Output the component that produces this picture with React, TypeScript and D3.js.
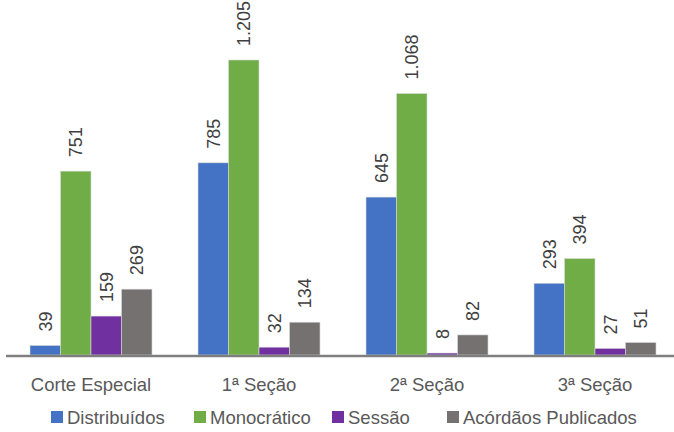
import { useEffect, useRef } from "react";
import * as d3 from "d3";

const categories = ["Corte Especial", "1ª Seção", "2ª Seção", "3ª Seção"];
const seriesNames = ["Distribuídos", "Monocrático", "Sessão", "Acórdãos Publicados"];
const distribuidos = [39, 785, 645, 293];
const monocratico = [751, 1205, 1068, 394];
const sessao = [159, 32, 8, 27];
const acordaos = [269, 134, 82, 51];
const colors = ["#4472c4", "#70ad47", "#7030a0", "#767171"];

const fmt = (v: number) => (v >= 1000 ? d3.format(",")(v).replace(",", ".") : String(v));

export default function App() {
  const svgRef = useRef<SVGSVGElement>(null);

  useEffect(() => {
    const svg = d3.select(svgRef.current);
    svg.selectAll("*").remove();

    const width = 674;
    const height = 432;
    const base = 355;
    const font = "'Liberation Sans', Arial, sans-serif";

    const series = [distribuidos, monocratico, sessao, acordaos];

    const x0 = d3
      .scaleBand<string>()
      .domain(categories)
      .range([7, 679]);
    const x1 = d3
      .scaleBand<number>()
      .domain(d3.range(series.length))
      .range([23, x0.bandwidth() - 23]);
    const y = d3.scaleLinear().domain([0, 1205]).range([base, 60]);

    const groups = svg
      .selectAll("g.grp")
      .data(categories)
      .join("g")
      .attr("transform", (c) => `translate(${x0(c)},0)`);

    groups.each(function (_c, ci) {
      const g = d3.select(this);
      series.forEach((s, si) => {
        const v = s[ci];
        const bx = x1(si)!;
        g.append("rect")
          .attr("x", bx)
          .attr("y", y(v))
          .attr("width", x1.bandwidth())
          .attr("height", base - y(v))
          .attr("fill", colors[si])
          .attr("stroke", "#d9d9d9")
          .attr("stroke-width", 0.6);
        const cx = bx + x1.bandwidth() / 2;
        const ty = y(v) - 14;
        g.append("text")
          .attr("transform", `translate(${cx},${ty}) rotate(-90)`)
          .attr("dy", "0.35em")
          .attr("text-anchor", "start")
          .attr("fill", "#404040")
          .style("font-family", font)
          .style("font-size", "18px")
          .text(fmt(v));
      });
    });

    svg
      .append("line")
      .attr("x1", 6)
      .attr("x2", width)
      .attr("y1", base + 1)
      .attr("y2", base + 1)
      .attr("stroke", "#7f7f7f")
      .attr("stroke-width", 2.5);

    svg
      .append("g")
      .selectAll("text")
      .data(categories)
      .join("text")
      .attr("x", (c) => x0(c)! + x0.bandwidth() / 2)
      .attr("y", 391)
      .attr("text-anchor", "middle")
      .attr("fill", "#595959")
      .style("font-family", font)
      .style("font-size", "18.5px")
      .text((c) => c);

    const legendX = [51, 194, 332, 447];
    const leg = svg
      .append("g")
      .selectAll("g")
      .data(seriesNames)
      .join("g")
      .attr("transform", (_d, i) => `translate(${legendX[i]},411)`);
    leg
      .append("rect")
      .attr("width", 12)
      .attr("height", 12)
      .attr("fill", (_d, i) => colors[i]);
    leg
      .append("text")
      .attr("x", 16)
      .attr("y", 13)
      .attr("fill", "#595959")
      .style("font-family", font)
      .style("font-size", "18.5px")
      .text((d) => d);

    svg.attr("width", width).attr("height", height);
  }, []);

  return (
    <svg
      ref={svgRef}
      width={674}
      height={432}
      style={{ position: "absolute", left: 0, top: 0, background: "#fff" }}
    />
  );
}
